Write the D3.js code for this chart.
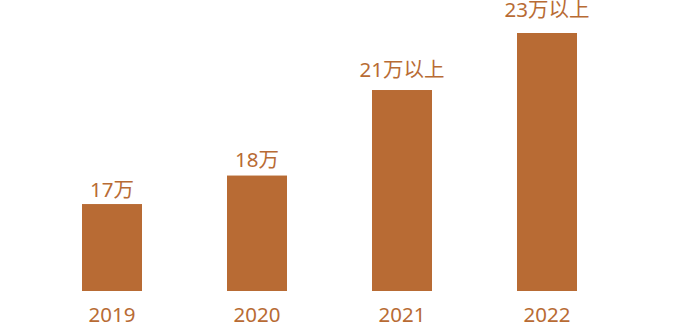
<!DOCTYPE html>
<html><head><meta charset="utf-8">
<script src="https://cdn.jsdelivr.net/npm/d3@7"></script>
<style>html,body{margin:0;padding:0;background:#fff;}</style>
</head><body>
<svg id="c" width="700" height="334"></svg>
<script>
const years = ["2019","2020","2021","2022"];
const values = [17, 18, 21, 23];
const labels = ["17万","18万","21万以上","23万以上"];

const svg = d3.select("#c");
const color = "#b86b34";
const font = "'Noto Sans','Noto Sans CJK SC',sans-serif";
const x = d3.scaleBand().domain(years).range([-3, 662]).paddingInner(0.5862).paddingOuter(0.5862);
const y = d3.scaleLinear().domain([13.95, 23]).range([291, 33]);
// label baseline scale (labels sit progressively higher above taller bars)
const yl = d3.scaleLinear().domain([17, 23]).range([197, 17]);

svg.selectAll("rect.bar").data(years).join("rect")
  .attr("class","bar")
  .attr("x", d => x(d))
  .attr("width", x.bandwidth())
  .attr("y", (d,i) => y(values[i]))
  .attr("height", (d,i) => y.range()[0] - y(values[i]))
  .attr("fill", color);

svg.selectAll("text.val").data(years).join("text")
  .attr("class","val")
  .attr("x", d => x(d) + x.bandwidth()/2)
  .attr("y", (d,i) => yl(values[i]))
  .attr("text-anchor","middle")
  .attr("font-family", font)
  .attr("font-size", 20.5)
  .attr("fill", color)
  .text((d,i) => labels[i]);

const axis = d3.axisBottom(x).tickSize(0).tickPadding(0);
const g = svg.append("g").attr("transform","translate(0,291)").call(axis);
g.select(".domain").remove();
g.selectAll("text")
  .attr("dy", null)
  .attr("y", 31)
  .attr("font-family", font)
  .attr("font-size", 20.5)
  .attr("fill", color);
</script>
</body></html>
